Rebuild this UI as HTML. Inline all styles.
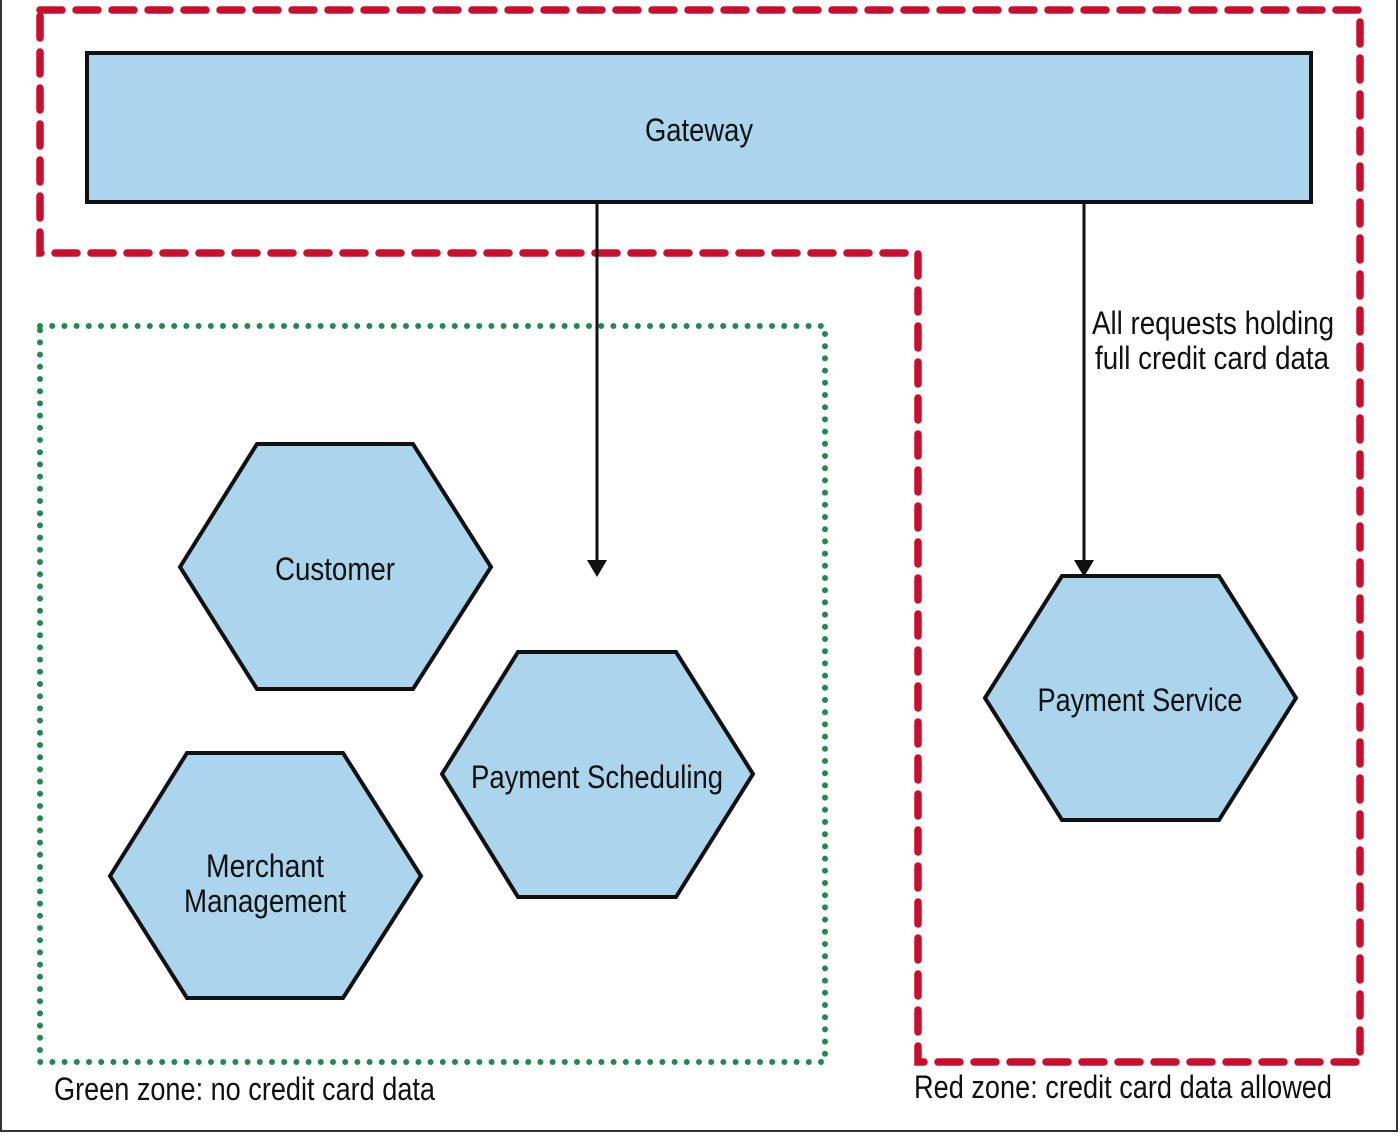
<!DOCTYPE html>
<html><head><meta charset="utf-8"><style>
html,body{margin:0;padding:0;background:#fff;}
svg{display:block}
text{font-family:"Liberation Sans",sans-serif;fill:#111;}
</style></head><body>
<svg width="1400" height="1141" viewBox="0 0 1400 1141" xmlns="http://www.w3.org/2000/svg">
<rect x="0" y="0" width="1400" height="1141" fill="#fff"/>
<path d="M1 0 V1131 H1397 V0" fill="none" stroke="#333" stroke-width="2"/>
<path d="M40 10 H1360 V1062 H918 V253 H40 Z" fill="none" stroke="#c8102e" stroke-width="7.5" stroke-linecap="round" stroke-dasharray="22 14"/>
<rect x="40" y="326" width="785" height="736" fill="none" stroke="#1f8a4c" stroke-width="6" stroke-linecap="round" stroke-dasharray="0 12.2"/>
<rect x="87" y="53" width="1224" height="149" fill="#abd5ec" stroke="#111" stroke-width="4"/>
<text x="699" y="141" font-size="32" text-anchor="middle" textLength="108" lengthAdjust="spacingAndGlyphs">Gateway</text>
<line x1="597" y1="202" x2="597" y2="562" stroke="#111" stroke-width="3"/>
<polygon points="587,560 607,560 597,577" fill="#111"/>
<line x1="1084" y1="202" x2="1084" y2="562" stroke="#111" stroke-width="3"/>
<polygon points="1074,560 1094,560 1084,577" fill="#111"/>
<text x="1092" y="334" font-size="32" textLength="242" lengthAdjust="spacingAndGlyphs">All requests holding</text>
<text x="1095" y="369" font-size="32" textLength="234" lengthAdjust="spacingAndGlyphs">full credit card data</text>
<g fill="#abd5ec" stroke="#111" stroke-width="4" stroke-linejoin="miter">
<polygon points="180,567 257,444 413,444 491,567 413,689 257,689"/>
<polygon points="442,774 518,652 676,652 753,774 676,897 518,897"/>
<polygon points="110,876 187,753 343,753 421,876 343,998 187,998"/>
<polygon points="985,698 1062,576 1219,576 1296,698 1219,820 1062,820"/>
</g>
<text x="335" y="580" font-size="32" text-anchor="middle" textLength="120" lengthAdjust="spacingAndGlyphs">Customer</text>
<text x="597" y="788" font-size="32" text-anchor="middle" textLength="252" lengthAdjust="spacingAndGlyphs">Payment Scheduling</text>
<text x="265" y="877" font-size="32" text-anchor="middle" textLength="118" lengthAdjust="spacingAndGlyphs">Merchant</text>
<text x="265" y="912" font-size="32" text-anchor="middle" textLength="162" lengthAdjust="spacingAndGlyphs">Management</text>
<text x="1140" y="711" font-size="32" text-anchor="middle" textLength="205" lengthAdjust="spacingAndGlyphs">Payment Service</text>
<text x="54" y="1100" font-size="32" textLength="381" lengthAdjust="spacingAndGlyphs">Green zone: no credit card data</text>
<text x="914" y="1098" font-size="32" textLength="418" lengthAdjust="spacingAndGlyphs">Red zone: credit card data allowed</text>
</svg>
</body></html>
